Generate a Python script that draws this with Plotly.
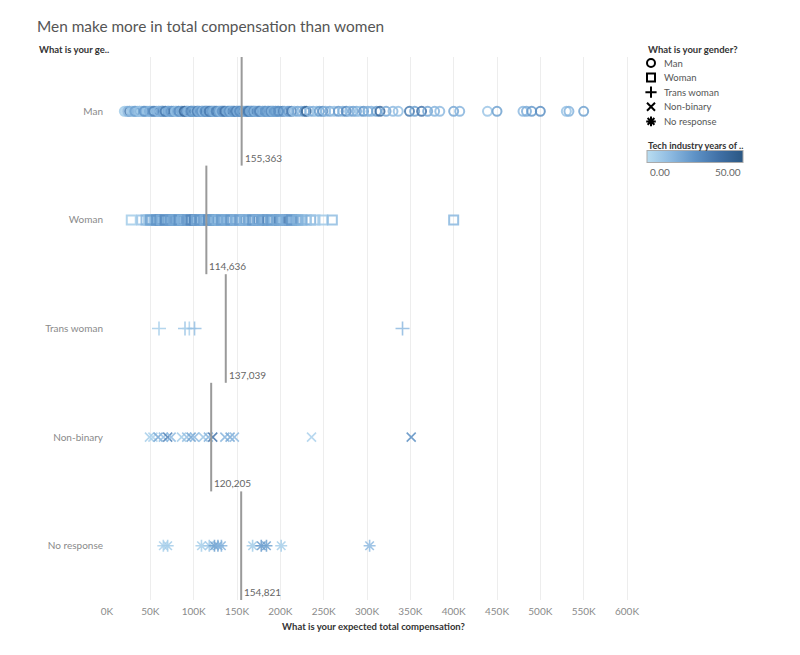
import plotly.graph_objects as go

# ---------------- data ----------------
categories = ["Man", "Woman", "Trans woman", "Non-binary", "No response"]
symbols = ["circle-open", "square-open", "cross-thin-open", "x-thin-open", "asterisk-open"]

# expected total compensation (thousands) and tech-industry years
man_comp = [20, 22, 26, 28, 30, 33, 35, 38, 40, 42, 45, 47, 50, 52, 55, 57, 60, 62, 64, 65,
            68, 70, 72, 75, 77, 80, 82, 85, 87, 90, 92, 94, 96, 98, 100, 101, 103, 105, 107, 110,
            112, 114, 115, 117, 119, 120, 122, 124, 125, 127, 130, 132, 134, 135, 137, 140, 142, 144, 145, 147,
            150, 152, 154, 155, 157, 160, 162, 164, 165, 167, 168, 170, 172, 175, 177, 180, 182, 185, 187, 190,
            192, 195, 197, 200, 203, 205, 208, 210, 213, 216, 220, 224, 228, 230, 234, 238, 242, 245, 249, 252,
            257, 262, 267, 272, 276, 280, 284, 288, 292, 296, 301, 305, 311, 315, 322, 330, 336, 349, 355, 363,
            370, 378, 384, 400, 407, 439, 450, 480, 484, 490, 500, 530, 533, 550,
            24, 32, 37, 43, 49, 54, 59, 63, 67, 71, 74, 79, 83, 86, 89, 93, 97, 99, 104, 106,
            109, 111, 113, 116, 118, 121, 123, 126, 129, 131, 133, 136, 139, 141, 143, 146, 149, 151, 153, 156,
            159, 161, 163, 166, 169, 171, 174, 176, 179, 183, 186, 189, 191, 194, 198]
man_years = [6, 4, 34, 10, 8, 14, 9, 18, 6, 12, 16, 8, 12, 20, 7, 14, 26, 10, 36, 16,
             12, 20, 9, 14, 28, 11, 18, 8, 14, 24, 32, 10, 16, 20, 12, 26, 9, 18, 14, 22,
             11, 34, 30, 16, 10, 19, 14, 24, 8, 17, 12, 21, 28, 15, 9, 18, 11, 25, 16, 31,
             14, 20, 10, 17, 26, 12, 19, 9, 23, 34, 15, 11, 18, 22, 10, 16, 27, 14, 19, 9,
             24, 15, 20, 12, 36, 16, 12, 21, 32, 10, 18, 14, 24, 42, 12, 16, 8, 20, 26, 13,
             18, 10, 22, 15, 28, 12, 19, 16, 9, 23, 17, 14, 20, 40, 18, 12, 10, 34, 20, 36,
             18, 14, 12, 18, 14, 8, 20, 12, 16, 22, 26, 9, 14, 20,
             14, 20, 9, 24, 15, 30, 12, 18, 34, 16, 22, 11, 26, 18, 40, 14, 28, 20, 32, 16,
             24, 12, 26, 18, 34, 22, 15, 30, 20, 12, 24, 36, 18, 26, 14, 22, 32, 16, 28, 20,
             12, 24, 34, 18, 26, 14, 21, 30, 16, 24, 18, 28, 15, 22, 26]

woman_comp = [28, 40, 45, 48, 52, 55, 58, 61, 62, 65, 68, 70, 72, 75, 78, 80, 82, 85, 88, 90,
              92, 95, 98, 101, 102, 105, 108, 110, 112, 115, 118, 120, 122, 125, 128, 130, 135, 140, 145, 150,
              155, 160, 165, 170, 175, 178, 182, 185, 188, 192, 195, 199, 202, 205, 208, 211, 215, 218, 222, 225,
              230, 235, 240, 249, 260, 400,
              50, 57, 63, 67, 73, 77, 83, 87, 93, 97, 103, 107, 113, 117, 123, 127, 132, 138, 143, 148,
              153, 158, 163, 168, 173, 180, 190, 197, 207, 213, 220]
woman_years = [6, 9, 14, 8, 16, 11, 18, 36, 26, 12, 15, 20, 10, 17, 13, 22, 11, 16, 19, 12,
               24, 14, 18, 34, 28, 10, 16, 13, 21, 11, 17, 14, 23, 12, 19, 9, 16, 13, 18, 11,
               15, 20, 12, 17, 26, 13, 16, 32, 18, 11, 15, 34, 17, 13, 21, 31, 12, 16, 11, 18,
               10, 15, 8, 7, 11, 13,
               20, 24, 16, 28, 22, 18, 26, 15, 21, 30, 18, 24, 16, 26, 20, 15, 22, 18, 24, 16,
               21, 14, 18, 24, 16, 20, 22, 18, 16, 24, 15]

trans_comp = [60, 90, 95, 101, 341]
trans_years = [5, 8, 4, 10, 12]

nonbinary_comp = [49, 53, 59, 65, 70, 74, 86, 92, 97, 101, 111, 117, 122, 136, 142, 147, 236, 351]
nonbinary_years = [5, 4, 18, 10, 30, 12, 6, 10, 20, 12, 8, 14, 36, 14, 18, 12, 4, 26]

noresp_comp = [65, 70, 109, 118, 124, 128, 132, 168, 178, 184, 201, 303]
noresp_years = [4, 6, 5, 7, 20, 18, 14, 6, 22, 20, 5, 12]

medians = [155363, 114636, 137039, 120205, 154821]

x_ticks = [0, 50, 100, 150, 200, 250, 300, 350, 400, 450, 500, 550, 600]
x_tick_labels = ["0K", "50K", "100K", "150K", "200K", "250K", "300K", "350K",
                 "400K", "450K", "500K", "550K", "600K"]

series_comp = [man_comp, woman_comp, trans_comp, nonbinary_comp, noresp_comp]
series_years = [man_years, woman_years, trans_years, nonbinary_years, noresp_years]

# ---------------- layout geometry (page pixels) ----------------
BODY = 8                       # default page margin around the plot div
W, H = 800 - BODY, 655 - BODY
PL, PR, PT, PB = 107, 640, 57, 600   # plot area in page pixels
ML, MT = PL - BODY, PT - BODY
MB = H - MT - (PB - PT)
AREA_W = W - ML                # plot area incl. legend column
MAIN_FRAC = (PR - PL) / AREA_W


def px(x):
    return (x - PL) / AREA_W


def py(y):
    return (PB - y) / (PB - PT)


FONT = "Lato"
colorscale = [[0, "#b9ddf1"], [0.25, "#8cb9e0"], [0.5, "#5e92c6"],
              [0.75, "#4070a6"], [1, "#2a5783"]]
marker_sizes = [9, 9, 10, 9, 10]
marker_lw = [2, 2, 1.6, 1.6, 1.6]

fig = go.Figure()

for i, cat in enumerate(categories):
    fig.add_trace(go.Scatter(
        x=series_comp[i],
        y=[i] * len(series_comp[i]),
        mode="markers",
        showlegend=False,
        marker=dict(
            symbol=symbols[i],
            size=marker_sizes[i],
            color=series_years[i],
            colorscale=colorscale,
            cmin=0, cmax=50,
            opacity=0.85,
            line=dict(width=marker_lw[i]),
            showscale=(i == 0),
            colorbar=dict(
                orientation="h",
                x=px(695), xanchor="center",
                y=py(157), yanchor="middle",
                lenmode="pixels", len=96,
                thickness=12,
                showticklabels=False,
                ticks="",
                outlinewidth=1, outlinecolor="#aaaaaa",
                xpad=0, ypad=0,
            ) if i == 0 else None,
        ),
        hoverinfo="skip",
    ))

# legend column (drawn on a hidden helper axis in page-pixel units)
legend_x_sym = 651
legend_x_text = 662
legend_y0 = 63
legend_step = 14.6
legend_y = [legend_y0 + legend_step * i for i in range(len(categories))]
fig.add_trace(go.Scatter(
    x=[legend_x_sym] * len(categories), y=legend_y,
    xaxis="x2", yaxis="y2", mode="markers", showlegend=False, hoverinfo="skip",
    marker=dict(symbol=symbols, size=8, color="black", line=dict(width=2, color="black")),
))
for i, cat in enumerate(categories):
    fig.add_annotation(x=legend_x_text, y=legend_y[i], xref="x2", yref="y2",
                       text=cat, showarrow=False, xanchor="left", yanchor="middle",
                       font=dict(family=FONT, size=9.5, color="#555555"))

# median reference lines + labels
for i, m in enumerate(medians):
    fig.add_shape(type="line", xref="x", yref="y",
                  x0=m / 1000, x1=m / 1000, y0=i - 0.5, y1=i + 0.5,
                  line=dict(color="#9a9a9a", width=2), layer="above")
    fig.add_annotation(x=m / 1000, y=i + 0.5, xref="x", yref="y",
                       text=f"{m:,}", showarrow=False, xanchor="left", yanchor="bottom",
                       xshift=1, yshift=0, font=dict(family=FONT, size=10, color="#666666"))

# header / legend titles / colorbar labels
fig.add_annotation(x=px(37), y=py(50), xref="paper", yref="paper",
                   text="<b>What is your ge..</b>", showarrow=False, xanchor="left", yanchor="middle",
                   font=dict(family=FONT, size=9.5, color="#333333"))
fig.add_annotation(x=px(646), y=py(50), xref="paper", yref="paper",
                   text="<b>What is your gender?</b>", showarrow=False, xanchor="left", yanchor="middle",
                   font=dict(family=FONT, size=9.5, color="#333333"))
fig.add_annotation(x=px(646), y=py(145), xref="paper", yref="paper",
                   text="<b>Tech industry years of ..</b>", showarrow=False, xanchor="left", yanchor="middle",
                   font=dict(family=FONT, size=9.2, color="#333333"))
fig.add_annotation(x=px(648), y=py(172), xref="paper", yref="paper",
                   text="0.00", showarrow=False, xanchor="left", yanchor="middle",
                   font=dict(family=FONT, size=10, color="#666666"))
fig.add_annotation(x=px(743), y=py(172), xref="paper", yref="paper",
                   text="50.00", showarrow=False, xanchor="right", yanchor="middle",
                   font=dict(family=FONT, size=10, color="#666666"))

fig.update_layout(
    width=W, height=H,
    margin=dict(l=ML, r=0, t=MT, b=MB, autoexpand=False),
    paper_bgcolor="white", plot_bgcolor="white",
    font=dict(family=FONT, size=10, color="#666666"),
    title=dict(text="Men make more in total compensation than women",
               x=(37 - BODY) / W, xanchor="left", xref="container",
               y=1 - (27 - BODY) / H, yanchor="middle", yref="container",
               font=dict(family=FONT, size=15.4, color="#555555")),
    showlegend=False,
    xaxis=dict(
        domain=[0, MAIN_FRAC],
        range=[0, 615],
        tickvals=x_ticks, ticktext=x_tick_labels,
        showgrid=True, gridcolor="#ededed", gridwidth=1,
        zeroline=False, showline=False, ticks="",
        ticklabelstandoff=4,
        tickfont=dict(family=FONT, size=10, color="#8a8a8a"),
        title=dict(text="<b>What is your expected total compensation?</b>", standoff=7,
                   font=dict(family=FONT, size=9.5, color="#333333")),
        fixedrange=True,
    ),
    yaxis=dict(
        range=[4.5, -0.5],
        tickvals=list(range(len(categories))), ticktext=categories,
        showgrid=False, zeroline=False, showline=False, ticks="",
        ticklabelstandoff=3,
        tickfont=dict(family=FONT, size=10, color="#8a8a8a"),
        fixedrange=True,
    ),
    xaxis2=dict(domain=[MAIN_FRAC, 1], range=[PR, 800], visible=False, fixedrange=True),
    yaxis2=dict(domain=[0, 1], range=[PB, PT], anchor="x2", visible=False, fixedrange=True),
)

fig.write_html("out.html")
